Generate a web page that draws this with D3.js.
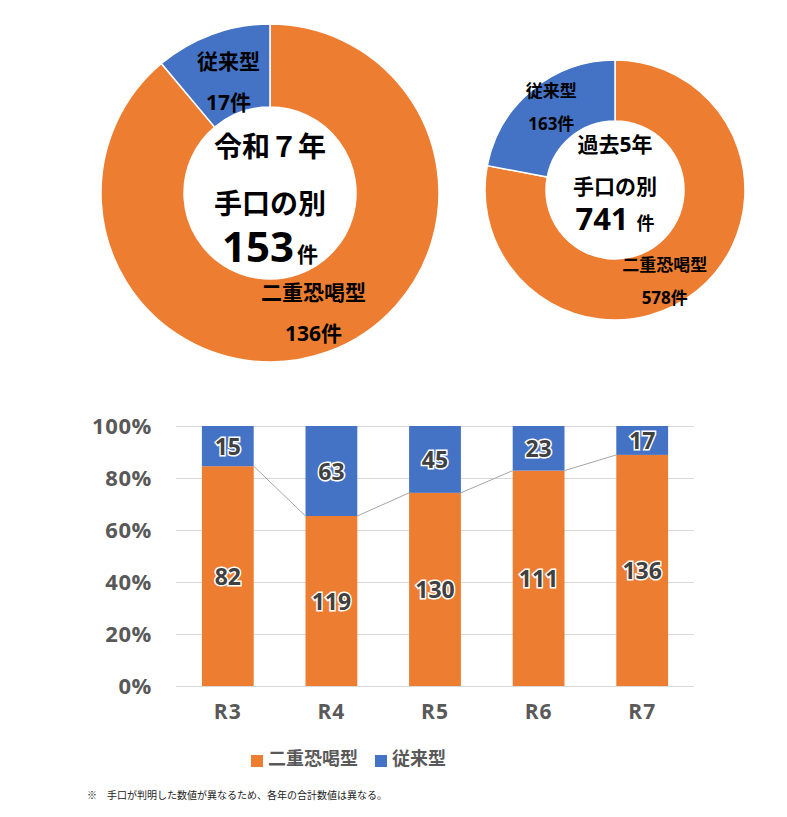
<!DOCTYPE html>
<html>
<head>
<meta charset="utf-8">
<script src="https://cdn.jsdelivr.net/npm/d3@7"></script>
<style>
  body { margin: 0; background: #fff; }
  text { font-family: "Open Sans", "Noto Sans CJK JP", sans-serif; }
</style>
</head>
<body>
<svg id="chart"></svg>
<script>
// data
const years = ['R3', 'R4', 'R5', 'R6', 'R7'];
const extortion = [82, 119, 130, 111, 136];
const conventional = [15, 63, 45, 23, 17];
const seriesNames = ['二重恐喝型', '従来型'];
const colors = ['#ED7D31', '#4472C4'];
const donutR7 = [136, 17];
const donutPast5 = [578, 163];
const yTicks = [0, 0.2, 0.4, 0.6, 0.8, 1];
const footnote = '※　手口が判明した数値が異なるため、各年の合計数値は異なる。';

const W = 787, H = 817;
const svg = d3.select('#chart').attr('width', W).attr('height', H);

// ---- donuts
function drawDonut(cfg) {
    const g = svg.append('g').attr('transform', `translate(${cfg.cx}, ${cfg.cy})`);
    const pie = d3.pie().sort(null).value(d => d);
    const arcs = pie(cfg.values);
    const arc = d3.arc().innerRadius(cfg.inner).outerRadius(cfg.outer);

    g.selectAll('path')
        .data(arcs)
        .join('path')
        .attr('d', arc)
        .attr('fill', (d, i) => colors[i])
        .attr('stroke', '#fff')
        .attr('stroke-width', 1.5);

    const labelArc = d3.arc().innerRadius(cfg.labelR).outerRadius(cfg.labelR);
    arcs.forEach((a, i) => {
        const [x, y] = labelArc.centroid(a);
        const dx = cfg.labelDx[i], dy = cfg.labelDy[i];
        g.append('text')
            .attr('x', x + dx).attr('y', y + dy - cfg.lineGap / 2)
            .attr('text-anchor', 'middle')
            .attr('dominant-baseline', 'central')
            .style('font-size', cfg.labelSize + 'px')
            .style('font-weight', 700)
            .text(seriesNames[i]);
        g.append('text')
            .attr('x', x + dx).attr('y', y + dy + cfg.lineGap / 2)
            .attr('text-anchor', 'middle')
            .attr('dominant-baseline', 'central')
            .style('font-size', cfg.labelSize + 'px')
            .style('font-weight', 700)
            .text(cfg.values[i] + '件');
    });

    // center text
    g.append('text')
        .attr('y', cfg.titleY)
        .attr('text-anchor', 'middle')
        .attr('dominant-baseline', 'central')
        .style('font-size', cfg.titleSize + 'px')
        .style('font-weight', 700)
        .text(cfg.title);
    g.append('text')
        .attr('y', cfg.subY)
        .attr('text-anchor', 'middle')
        .attr('dominant-baseline', 'central')
        .style('font-size', cfg.titleSize + 'px')
        .style('font-weight', 700)
        .text('手口の別');
    const total = d3.sum(cfg.values);
    const t = g.append('text')
        .attr('y', cfg.totalY)
        .attr('text-anchor', 'middle')
        .style('font-weight', 700);
    t.append('tspan').style('font-size', cfg.totalSize + 'px').text(total);
    t.append('tspan').attr('dx', cfg.unitDx).style('font-size', cfg.unitSize + 'px').text('件');
}

drawDonut({
    cx: 270, cy: 193, outer: 169, inner: 86, labelR: 127,
    values: donutR7, labelSize: 21, lineGap: 41,
    labelDx: [0, 2], labelDy: [0, 8],
    title: '令和７年', titleY: -47, subY: 10, titleSize: 28,
    totalY: 69, totalSize: 42, unitSize: 21, unitDx: 3
});

drawDonut({
    cx: 615, cy: 190, outer: 130, inner: 69, labelR: 100,
    values: donutPast5, labelSize: 17, lineGap: 33,
    labelDx: [-14, 0], labelDy: [14, -6],
    title: '過去5年', titleY: -46, subY: -4, titleSize: 21,
    totalY: 40, totalSize: 31, unitSize: 18, unitDx: 8
});

// ---- 100% stacked bars
const rows = years.map((y, i) => ({ year: y, a: extortion[i], b: conventional[i] }));
const x = d3.scaleBand().domain(years).range([176, 694]).paddingInner(0.5).paddingOuter(0.25);
const y = d3.scaleLinear().domain([0, 1]).range([686, 426]);
const gray = '#595959';

const yAxis = d3.axisLeft(y).tickValues(yTicks).tickFormat(d3.format('.0%')).tickSize(0).tickPadding(0);
const yg = svg.append('g').attr('transform', 'translate(152, 0)').call(yAxis);
yg.select('.domain').remove();
yg.selectAll('text')
    .style('font-size', '22px').style('font-weight', 700)
    .style('letter-spacing', '0.6px')
    .attr('fill', gray);

svg.append('g').selectAll('line')
    .data(yTicks)
    .join('line')
    .attr('x1', 176).attr('x2', 694)
    .attr('y1', d => y(d) + 0.5).attr('y2', d => y(d) + 0.5)
    .attr('stroke', '#d9d9d9');

const xAxis = d3.axisBottom(x).tickSize(0).tickPadding(0);
const xg = svg.append('g').attr('transform', 'translate(0, 704)').call(xAxis);
xg.select('.domain').remove();
xg.selectAll('text')
    .style('font-size', '21px').style('font-weight', 700)
    .style('letter-spacing', '1px')
    .attr('fill', gray);

const stack = d3.stack().keys(['a', 'b']).offset(d3.stackOffsetExpand);
const stacked = stack(rows);

const series = svg.append('g').selectAll('g')
    .data(stacked)
    .join('g')
    .attr('fill', (d, i) => colors[i]);

series.selectAll('rect')
    .data(d => d)
    .join('rect')
    .attr('x', d => x(d.data.year))
    .attr('width', x.bandwidth())
    .attr('y', d => y(d[1]))
    .attr('height', d => y(d[0]) - y(d[1]));

// series lines
const boundary = stacked[0];
svg.append('g').selectAll('line')
    .data(boundary.slice(0, -1))
    .join('line')
    .attr('x1', d => x(d.data.year) + x.bandwidth())
    .attr('y1', d => y(d[1]))
    .attr('x2', (d, i) => x(years[i + 1]))
    .attr('y2', (d, i) => y(boundary[i + 1][1]))
    .attr('stroke', '#a5a5a5')
    .attr('stroke-width', 1);

// data labels
stacked.forEach(s => {
    svg.append('g').selectAll('text')
        .data(s)
        .join('text')
        .attr('x', d => x(d.data.year) + x.bandwidth() / 2)
        .attr('y', d => y((d[0] + d[1]) / 2))
        .attr('text-anchor', 'middle')
        .attr('dominant-baseline', 'central')
        .style('font-size', '23px')
        .style('font-weight', 700)
        .attr('fill', '#404040')
        .attr('stroke', '#fff')
        .attr('stroke-width', 3)
        .attr('paint-order', 'stroke')
        .text(d => d.data[s.key]);
});

// legend
const legend = svg.append('g').attr('transform', 'translate(251, 755)');
const items = legend.selectAll('g')
    .data(seriesNames)
    .join('g')
    .attr('transform', (d, i) => `translate(${i * 124}, 0)`);
items.append('rect')
    .attr('width', 12).attr('height', 12)
    .attr('fill', (d, i) => colors[i]);
items.append('text')
    .attr('x', 17).attr('y', 3)
    .attr('dominant-baseline', 'central')
    .style('font-size', '18px')
    .style('font-weight', 700)
    .attr('fill', gray)
    .text(d => d);

// footnote
svg.append('text')
    .attr('x', 87).attr('y', 795)
    .attr('dominant-baseline', 'central')
    .style('font-size', '10px')
    .attr('fill', '#222')
    .text(footnote);
</script>
</body>
</html>
